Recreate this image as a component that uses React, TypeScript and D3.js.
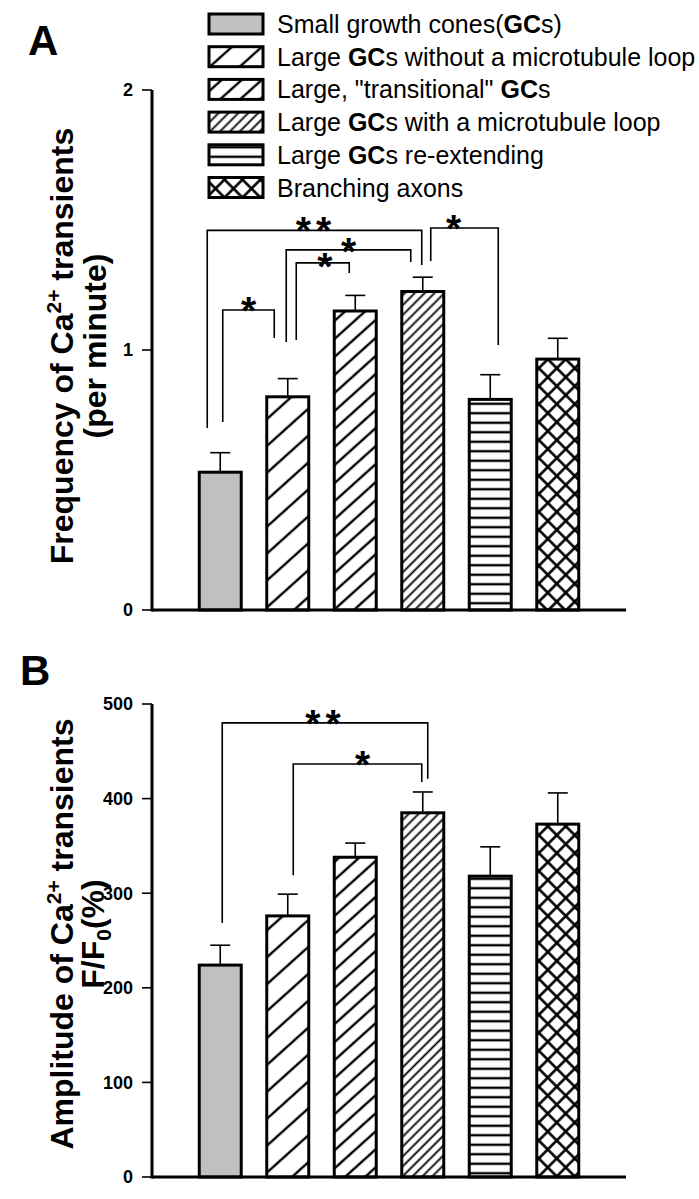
import React from "react";
import * as d3 from "d3";

const categories = [
  "Small growth cones",
  "Large GCs without a microtubule loop",
  "Large, transitional GCs",
  "Large GCs with a microtubule loop",
  "Large GCs re-extending",
  "Branching axons",
];
const fills = ["url(#pGray)", "url(#pSparse)", "url(#pMedium)", "url(#pDense)", "url(#pHoriz)", "url(#pCross)"];

const freqMean = [0.53, 0.82, 1.15, 1.225, 0.81, 0.965];
const freqErr = [0.075, 0.07, 0.06, 0.055, 0.095, 0.08];
const ampMean = [224, 276, 338, 385, 318, 373];
const ampErr = [21, 23, 15, 22, 31, 33];
const freqTicks = [0, 1, 2];
const ampTicks = [0, 100, 200, 300, 400, 500];

// significance brackets (bar indices, bracket top value, drop-end values)
const freqSig = [
  { a: 0, b: 3, top: 1.46, endA: 0.7, endB: 1.327, label: "**" },
  { a: 3, b: 4, top: 1.469, endA: 1.342, endB: 1.019, label: "*" },
  { a: 1, b: 3, top: 1.385, endA: 1.031, endB: 1.338, label: "*" },
  { a: 1, b: 2, top: 1.335, endA: 1.038, endB: 1.296, label: "*" },
  { a: 0, b: 1, top: 1.154, endA: 0.723, endB: 1.046, label: "*" },
];
const ampSig = [
  { a: 0, b: 3, top: 480, endA: 268.5, endB: 421, label: "**" },
  { a: 1, b: 3, top: 436.6, endA: 319, endB: 417.5, label: "*" },
];
// layout offsets (px): [end A shift, end B shift, label x shift, label y shift]
const freqSigOffsets = [[-13, -1, -1, 0], [8, 8, -11, 0], [-1.5, -12, 0, 1], [8.5, -6, 2, 3], [2.5, -13.5, 0, 0]];
const ampSigOffsets = [[2, 5, -2, 0], [5.5, -1, 5, 0]];

const legendItems = [
  { pre: "Small growth cones(", bold: "GC", post: "s)" },
  { pre: "Large ", bold: "GC", post: "s without a microtubule loop" },
  { pre: 'Large, "transitional" ', bold: "GC", post: "s" },
  { pre: "Large ", bold: "GC", post: "s with a microtubule loop" },
  { pre: "Large ", bold: "GC", post: "s re-extending" },
  { pre: "Branching axons", bold: "", post: "" },
];

const FONT = "'Liberation Sans', Arial, Helvetica, sans-serif";

const x = d3
  .scaleBand<number>()
  .domain(d3.range(categories.length))
  .range([152, 626])
  .paddingInner(0.378)
  .paddingOuter(0.7);

function Panel({ means, errs, ticks, y, sig, offsets, tickFmt }: any) {
  const [y0, y1] = y.range();
  const xr = x.range();
  return (
    <g>
      {means.map((m: number, i: number) => {
        const bx = x(i)!;
        const bw = x.bandwidth();
        const cx = bx + bw / 2;
        return (
          <g key={i}>
            <line x1={cx} x2={cx} y1={y(m)} y2={y(m + errs[i])} stroke="#000" strokeWidth={1.6} />
            <line x1={cx - 10} x2={cx + 10} y1={y(m + errs[i])} y2={y(m + errs[i])} stroke="#000" strokeWidth={1.6} />
            <rect x={bx} y={y(m)} width={bw} height={y(0) - y(m)} fill={fills[i]} stroke="#000" strokeWidth={3} />
          </g>
        );
      })}
      {sig.map((s: any, i: number) => {
        const xa = x(s.a)! + x.bandwidth() / 2 + offsets[i][0];
        const xb = x(s.b)! + x.bandwidth() / 2 + offsets[i][1];
        const ty = y(s.top);
        const multi = s.label.length > 1;
        return (
          <g key={"s" + i}>
            <path
              d={`M${xa},${y(s.endA)}V${ty}H${xb}V${y(s.endB)}`}
              fill="none"
              stroke="#000"
              strokeWidth={1.6}
            />
            <text
              x={(xa + xb) / 2 + offsets[i][2] + (multi ? 2.5 : 0)}
              y={ty + 14 + offsets[i][3]}
              textAnchor="middle"
              fontFamily={FONT}
              fontWeight="bold"
              fontSize={39}
              letterSpacing={multi ? 5 : 0}
            >
              {s.label}
            </text>
          </g>
        );
      })}
      <line x1={xr[0]} x2={xr[1]} y1={y(0)} y2={y(0)} stroke="#000" strokeWidth={3} />
      <line x1={152} x2={152} y1={y0 + 1.5} y2={y1} stroke="#000" strokeWidth={3} />
      {ticks.map((t: number) => (
        <g key={t}>
          <line x1={142} x2={152} y1={y(t)} y2={y(t)} stroke="#000" strokeWidth={1.6} />
          <text
            x={133}
            y={y(t)}
            dy="0.36em"
            textAnchor="end"
            fontFamily={FONT}
            fontWeight="bold"
            fontSize={18}
          >
            {tickFmt(t)}
          </text>
        </g>
      ))}
    </g>
  );
}

export default function App() {
  const yA = d3.scaleLinear().domain([0, 2]).range([610, 90]);
  const yB = d3.scaleLinear().domain([0, 500]).range([1177, 704]);
  const fmt = d3.format("d");

  return (
    <svg
      width={699}
      height={1199}
      style={{ position: "absolute", left: 0, top: 0, background: "#fff" }}
      fontFamily={FONT}
    >
      <defs>
        <pattern id="pGray" patternUnits="userSpaceOnUse" width={10} height={10}>
          <rect width={10} height={10} fill="#c0c0c0" />
        </pattern>
        <pattern id="pSparse" patternUnits="userSpaceOnUse" width={20} height={20} patternTransform="rotate(-42)">
          <rect width={20} height={20} fill="#fff" />
          <line x1={0} x2={20} y1={10} y2={10} stroke="#000" strokeWidth={2.4} />
        </pattern>
        <pattern id="pMedium" patternUnits="userSpaceOnUse" width={13.4} height={13.4} patternTransform="rotate(-42)">
          <rect width={13.4} height={13.4} fill="#fff" />
          <line x1={0} x2={13.4} y1={6.7} y2={6.7} stroke="#000" strokeWidth={2.4} />
        </pattern>
        <pattern id="pDense" patternUnits="userSpaceOnUse" width={7} height={7} patternTransform="rotate(-45)">
          <rect width={7} height={7} fill="#fff" />
          <line x1={0} x2={7} y1={3.5} y2={3.5} stroke="#000" strokeWidth={1.8} />
        </pattern>
        <pattern id="pHoriz" patternUnits="userSpaceOnUse" width={10} height={9.5}>
          <rect width={10} height={9.5} fill="#fff" />
          <line x1={0} x2={10} y1={4.75} y2={4.75} stroke="#000" strokeWidth={2.4} />
        </pattern>
        <pattern id="pCross" patternUnits="userSpaceOnUse" width={12.7} height={12.7} patternTransform="rotate(45)">
          <rect width={12.7} height={12.7} fill="#fff" />
          <line x1={0} x2={12.7} y1={6.35} y2={6.35} stroke="#000" strokeWidth={2.6} />
          <line x1={6.35} x2={6.35} y1={0} y2={12.7} stroke="#000" strokeWidth={2.6} />
        </pattern>
      </defs>

      {/* Panel letters */}
      <text x={28} y={55} fontSize={42} fontWeight="bold">A</text>
      <text x={20} y={685} fontSize={42} fontWeight="bold">B</text>

      {/* Legend */}
      {legendItems.map((it, i) => {
        const cy = 24 + i * 32.7;
        return (
          <g key={i}>
            <rect x={209} y={cy - 10} width={54} height={20} fill={fills[i]} stroke="#000" strokeWidth={3} />
            <text x={277} y={cy} dy="0.36em" fontSize={25}>
              {it.pre}
              {it.bold && <tspan fontWeight="bold">{it.bold}</tspan>}
              {it.post}
            </text>
          </g>
        );
      })}

      {/* Y titles */}
      <text transform="translate(73,346) rotate(-90)" textAnchor="middle" fontWeight="bold" fontSize={32}>
        Frequency of Ca<tspan dy={-12} fontSize={21}>2+</tspan>
        <tspan dy={12}> transients</tspan>
      </text>
      <text transform="translate(106,346) rotate(-90)" textAnchor="middle" fontWeight="bold" fontSize={32}>
        (per minute)
      </text>
      <text transform="translate(73,934) rotate(-90)" textAnchor="middle" fontWeight="bold" fontSize={32}>
        Amplitude of Ca<tspan dy={-12} fontSize={21}>2+</tspan>
        <tspan dy={12}> transients</tspan>
      </text>
      <text transform="translate(104,934) rotate(-90)" textAnchor="middle" fontWeight="bold" fontSize={32}>
        F/F<tspan dy={7} fontSize={21}>0</tspan>
        <tspan dy={-7}>(%)</tspan>
      </text>

      <Panel means={freqMean} errs={freqErr} ticks={freqTicks} y={yA} sig={freqSig} offsets={freqSigOffsets} tickFmt={fmt} />
      <Panel means={ampMean} errs={ampErr} ticks={ampTicks} y={yB} sig={ampSig} offsets={ampSigOffsets} tickFmt={fmt} />
    </svg>
  );
}
